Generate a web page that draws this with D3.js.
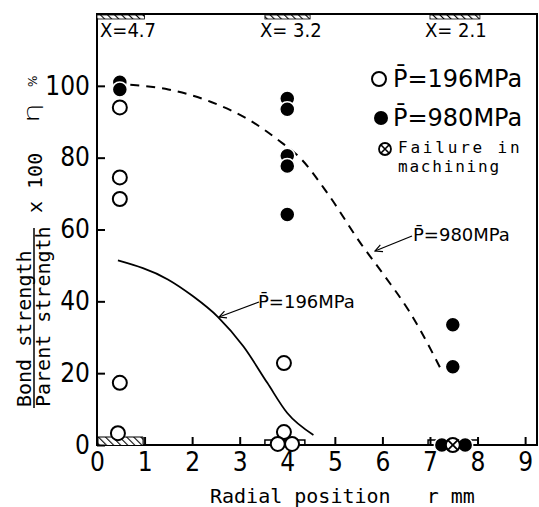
<!DOCTYPE html>
<html><head><meta charset="utf-8">
<script src="https://cdn.jsdelivr.net/npm/d3@7"></script>
<style>body{margin:0;background:#fff} svg{display:block}</style>
</head><body>
<svg id="c" width="539" height="507"></svg>
<script>
// ---------- data ----------
const xTickValues = [0,1,2,3,4,5,6,7,8,9];
const yTickValues = [0,20,40,60,80,100];
// open circles: P = 196 MPa
const open196R   = [0.48, 0.48, 0.48, 0.48, 0.44, 3.93, 3.93, 3.8, 4.1];
const open196Eta = [94, 74.5, 68.5, 17.3, 3.3, 22.8, 3.6, 0.3, 0.3];
// filled circles: P = 980 MPa (drawn top-first so overlaps show as crescents)
const filled980R   = [0.48, 0.48, 4.0, 4.0, 4.0, 4.0, 4.0, 7.48, 7.48, 7.25, 7.74];
const filled980Eta = [101, 99, 96.5, 93.5, 80.5, 77.7, 64.2, 33.5, 21.8, 0, 0];
// failure in machining
const failR   = [7.48];
const failEta = [0];
// curves
const curve980R   = [0.7, 1.5, 2.4, 3.2, 3.8, 4.3, 4.85, 5.55, 6.05, 6.55, 7.04, 7.27];
const curve980Eta = [100.3, 99, 95.5, 90.5, 85, 79.5, 70, 56, 47, 37.5, 26, 20];
const curve196R   = [0.44, 1.49, 2.02, 2.54, 3.08, 3.58, 4.0, 4.55];
const curve196Eta = [51.4, 46.1, 41.4, 35.7, 27.4, 17.3, 8.9, 2.8];
// specimen bands
const topBandStart = [0, 3.53, 7.0];
const topBandEnd   = [1.0, 4.48, 8.05];
const topBandLabels = ["X=4.7", "X= 3.2", "X= 2.1"];
const bottomHatchStart = [0], bottomHatchEnd = [0.97];
const bottomStepStart = [3.53, 6.96], bottomStepEnd = [4.37, 8.01];

// ---------- drawing ----------
const svg = d3.select("#c");
const W = 539, H = 507;
svg.append("rect").attr("width", W).attr("height", H).attr("fill", "#fff");

const x = d3.scaleLinear().domain([0, 9.25]).range([97, 537]);
const y = d3.scaleLinear().domain([0, 120]).range([445, 14]);

const narrow = "'Liberation Sans Narrow','DejaVu Sans Condensed','Arial Narrow',sans-serif";
const sans = "'DejaVu Sans',sans-serif";
const mono = "'DejaVu Sans Mono',monospace";

const defs = svg.append("defs");
const pat = defs.append("pattern").attr("id", "hatch").attr("patternUnits", "userSpaceOnUse")
  .attr("width", 5).attr("height", 5).attr("patternTransform", "rotate(-45)");
pat.append("rect").attr("width", 5).attr("height", 5).attr("fill", "#fff");
pat.append("line").attr("x1", 0).attr("y1", 0).attr("x2", 0).attr("y2", 5)
  .attr("stroke", "#000").attr("stroke-width", 2.2);
const mk = defs.append("marker").attr("id", "arrow").attr("viewBox", "0 0 10 10")
  .attr("refX", 9).attr("refY", 5).attr("markerWidth", 9).attr("markerHeight", 9)
  .attr("markerUnits", "userSpaceOnUse").attr("orient", "auto");
mk.append("path").attr("d", "M1,1 L9,5 L1,9").attr("fill", "none").attr("stroke", "#000").attr("stroke-width", 1.3);

// frame
svg.append("rect").attr("x", x(0)).attr("y", y(120)).attr("width", x(9.25) - x(0))
  .attr("height", y(0) - y(120)).attr("fill", "none").attr("stroke", "#000").attr("stroke-width", 2);

// top bands
topBandStart.forEach((s, i) => {
  svg.append("rect").attr("x", x(s)).attr("y", y(120) + 1).attr("width", x(topBandEnd[i]) - x(s))
    .attr("height", 4).attr("fill", "url(#hatch)").attr("stroke", "#000").attr("stroke-width", 0.8);
  svg.append("text").attr("x", x(s) + (i === 0 ? 3 : -5)).attr("y", 37)
    .attr("font-family", narrow).attr("font-size", 20).text(topBandLabels[i]);
});

// bottom hatch
bottomHatchStart.forEach((s, i) => {
  svg.append("rect").attr("x", x(s)).attr("y", y(0) - 8).attr("width", x(bottomHatchEnd[i]) - x(s))
    .attr("height", 8).attr("fill", "url(#hatch)");
  svg.append("line").attr("x1", x(s)).attr("x2", x(bottomHatchEnd[i])).attr("y1", y(0) - 8).attr("y2", y(0) - 8)
    .attr("stroke", "#000").attr("stroke-width", 1.2);
  svg.append("line").attr("x1", x(bottomHatchEnd[i])).attr("x2", x(bottomHatchEnd[i])).attr("y1", y(0) - 8).attr("y2", y(0))
    .attr("stroke", "#000").attr("stroke-width", 1.2);
});
bottomStepStart.forEach((s, i) => {
  const x0 = x(s), x1 = x(bottomStepEnd[i]), yb = y(0);
  svg.append("path").attr("d", `M${x0},${yb} L${x0},${yb - 5} L${x1},${yb - 5} L${x1},${yb}`)
    .attr("fill", "none").attr("stroke", "#000").attr("stroke-width", 1.5);
});

// axes
const xAxis = d3.axisBottom(x).tickValues(xTickValues).tickSizeInner(-8).tickSizeOuter(0).tickPadding(8);
const gx = svg.append("g").attr("transform", `translate(0,${y(0)})`).call(xAxis);
gx.select(".domain").remove();
gx.selectAll(".tick line").attr("stroke", "#000").attr("stroke-width", 2);
gx.selectAll(".tick text").attr("font-family", narrow).attr("font-size", 26).attr("fill", "#000");

const yAxis = d3.axisLeft(y).tickValues(yTickValues).tickSizeInner(-8).tickSizeOuter(0).tickPadding(7);
const gy = svg.append("g").attr("transform", `translate(${x(0)},0)`).call(yAxis);
gy.select(".domain").remove();
gy.selectAll(".tick line").attr("stroke", "#000").attr("stroke-width", 2);
gy.selectAll(".tick text").attr("font-family", narrow).attr("font-size", 26).attr("fill", "#000");

// curves
const line = d3.line().x(d => x(d[0])).y(d => y(d[1])).curve(d3.curveMonotoneX);
svg.append("path").datum(curve980R.map((r, i) => [r, curve980Eta[i]])).attr("d", line)
  .attr("fill", "none").attr("stroke", "#000").attr("stroke-width", 2).attr("stroke-dasharray", "9,7");
svg.append("path").datum(curve196R.map((r, i) => [r, curve196Eta[i]])).attr("d", line)
  .attr("fill", "none").attr("stroke", "#000").attr("stroke-width", 1.8);

// points
const R = 7;
svg.append("g").selectAll("circle").data(open196R.map((r, i) => [r, open196Eta[i]])).join("circle")
  .attr("cx", d => x(d[0])).attr("cy", d => y(d[1])).attr("r", R)
  .attr("fill", "#fff").attr("stroke", "#000").attr("stroke-width", 2);
svg.append("g").selectAll("circle").data(filled980R.map((r, i) => [r, filled980Eta[i]])).join("circle")
  .attr("cx", d => x(d[0])).attr("cy", d => y(d[1])).attr("r", R + 0.5)
  .attr("fill", "#000").attr("stroke", "#fff").attr("stroke-width", 1.5);
failR.forEach((r, i) => {
  const cx = x(r), cy = y(failEta[i]);
  const g = svg.append("g");
  g.append("circle").attr("cx", cx).attr("cy", cy).attr("r", R).attr("fill", "#fff").attr("stroke", "#000").attr("stroke-width", 2);
  const d = R * 0.7;
  g.append("path").attr("d", `M${cx - d},${cy - d}L${cx + d},${cy + d}M${cx - d},${cy + d}L${cx + d},${cy - d}`)
    .attr("stroke", "#000").attr("stroke-width", 1.8);
});

// curve labels with arrows
svg.append("line").attr("x1", 259).attr("y1", 302).attr("x2", 219).attr("y2", 317)
  .attr("stroke", "#000").attr("stroke-width", 1.3).attr("marker-end", "url(#arrow)");
svg.append("text").attr("x", 258).attr("y", 308).attr("font-family", sans).attr("font-size", 18).text("P\u0304=196MPa");
svg.append("line").attr("x1", 412).attr("y1", 236).attr("x2", 375).attr("y2", 251)
  .attr("stroke", "#000").attr("stroke-width", 1.3).attr("marker-end", "url(#arrow)");
svg.append("text").attr("x", 413).attr("y", 241).attr("font-family", sans).attr("font-size", 18).text("P\u0304=980MPa");

// legend
svg.append("circle").attr("cx", 379).attr("cy", 79).attr("r", R).attr("fill", "#fff").attr("stroke", "#000").attr("stroke-width", 2);
svg.append("text").attr("x", 393).attr("y", 87).attr("font-family", sans).attr("font-size", 24).text("P\u0304=196MPa");
svg.append("circle").attr("cx", 381).attr("cy", 118).attr("r", R).attr("fill", "#000");
svg.append("text").attr("x", 393).attr("y", 126).attr("font-family", sans).attr("font-size", 24).text("P\u0304=980MPa");
{
  const cx = 385, cy = 149, r = 6, d = 4.2;
  svg.append("circle").attr("cx", cx).attr("cy", cy).attr("r", r).attr("fill", "#fff").attr("stroke", "#000").attr("stroke-width", 1.8);
  svg.append("path").attr("d", `M${cx - d},${cy - d}L${cx + d},${cy + d}M${cx - d},${cy + d}L${cx + d},${cy - d}`)
    .attr("stroke", "#000").attr("stroke-width", 1.6);
}
svg.append("text").attr("x", 398).attr("y", 153).attr("font-family", mono).attr("font-size", 16).attr("letter-spacing", 2.8).text("Failure in");
svg.append("text").attr("x", 398).attr("y", 172).attr("font-family", mono).attr("font-size", 16).attr("letter-spacing", 1.8).text("machining");

// x axis title
svg.append("text").attr("x", 210).attr("y", 503).attr("font-family", mono).attr("font-size", 20)
  .style("white-space", "pre").text("Radial position   r mm");

// y axis title (rotated)
const yt = svg.append("g");
yt.append("text").attr("transform", "translate(31,407) rotate(-90)").attr("font-family", mono).attr("font-size", 20)
  .style("white-space", "pre").text("Bond strength");
yt.append("line").attr("x1", 34).attr("x2", 34).attr("y1", 408).attr("y2", 228).attr("stroke", "#000").attr("stroke-width", 1.5);
yt.append("text").attr("transform", "translate(50,407) rotate(-90)").attr("font-family", mono).attr("font-size", 20)
  .text("Parent strength");
yt.append("text").attr("transform", "translate(42,213) rotate(-90)").attr("font-family", mono).attr("font-size", 20)
  .style("white-space", "pre").text("x 100");
yt.append("text").attr("transform", "translate(39,123) rotate(-90) scale(1.5,1)").attr("font-family", sans).attr("font-size", 21)
  .attr("font-weight", 300).text("\u03B7");
yt.append("text").attr("transform", "translate(37,87) rotate(-90)").attr("font-family", sans).attr("font-size", 12)
  .text("%");
</script>
</body></html>
